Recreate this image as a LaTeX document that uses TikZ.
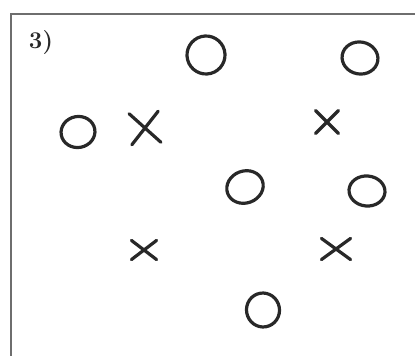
\documentclass[tikz,border=0pt]{standalone}
\usetikzlibrary{shapes.geometric,shapes.misc}
\definecolor{ink}{RGB}{40,40,40}
\definecolor{frame}{RGB}{110,110,110}
\begin{document}
\begin{tikzpicture}[x=1pt,y=-1pt,
  ring/.style={ellipse,draw=ink,line width=3.2pt,inner sep=0pt},
  cross/.style={cross out,draw=ink,line width=3.2pt,inner sep=0pt,line cap=round},
  lbl/.style={text=ink,font=\fontsize{24}{24}\selectfont\bfseries,inner sep=0pt}]
\useasboundingbox (0,0) rectangle (415,356);
\fill[white] (0,0) rectangle (415,356);
\draw[frame,line width=1.8pt] (11,360) -- (11,14) -- (420,14);
\node[lbl] (label) at (41,43) {3)};
\node[ring,minimum width=38pt,minimum height=38pt,rotate=15] (o1) at (206,55) {};
\node[ring,minimum width=36pt,minimum height=32pt,rotate=-10] (o2) at (360,58) {};
\node[ring,minimum width=34pt,minimum height=31pt,rotate=10] (o3) at (78,132) {};
\node[cross,minimum width=26pt,minimum height=28pt,rotate=5] (x1) at (145,128) {};
\node[cross,minimum width=20pt,minimum height=20pt] (x2) at (327,122) {};
\node[ring,minimum width=37pt,minimum height=32pt,rotate=20] (o4) at (245,187) {};
\node[ring,minimum width=36pt,minimum height=30pt,rotate=-5] (o5) at (367,191) {};
\node[cross,minimum width=22pt,minimum height=16pt] (x3) at (144,250) {};
\node[cross,minimum width=26pt,minimum height=18pt] (x4) at (336,249) {};
\node[ring,minimum width=33pt,minimum height=34pt,rotate=10] (o6) at (263,310) {};
\end{tikzpicture}
\end{document}
